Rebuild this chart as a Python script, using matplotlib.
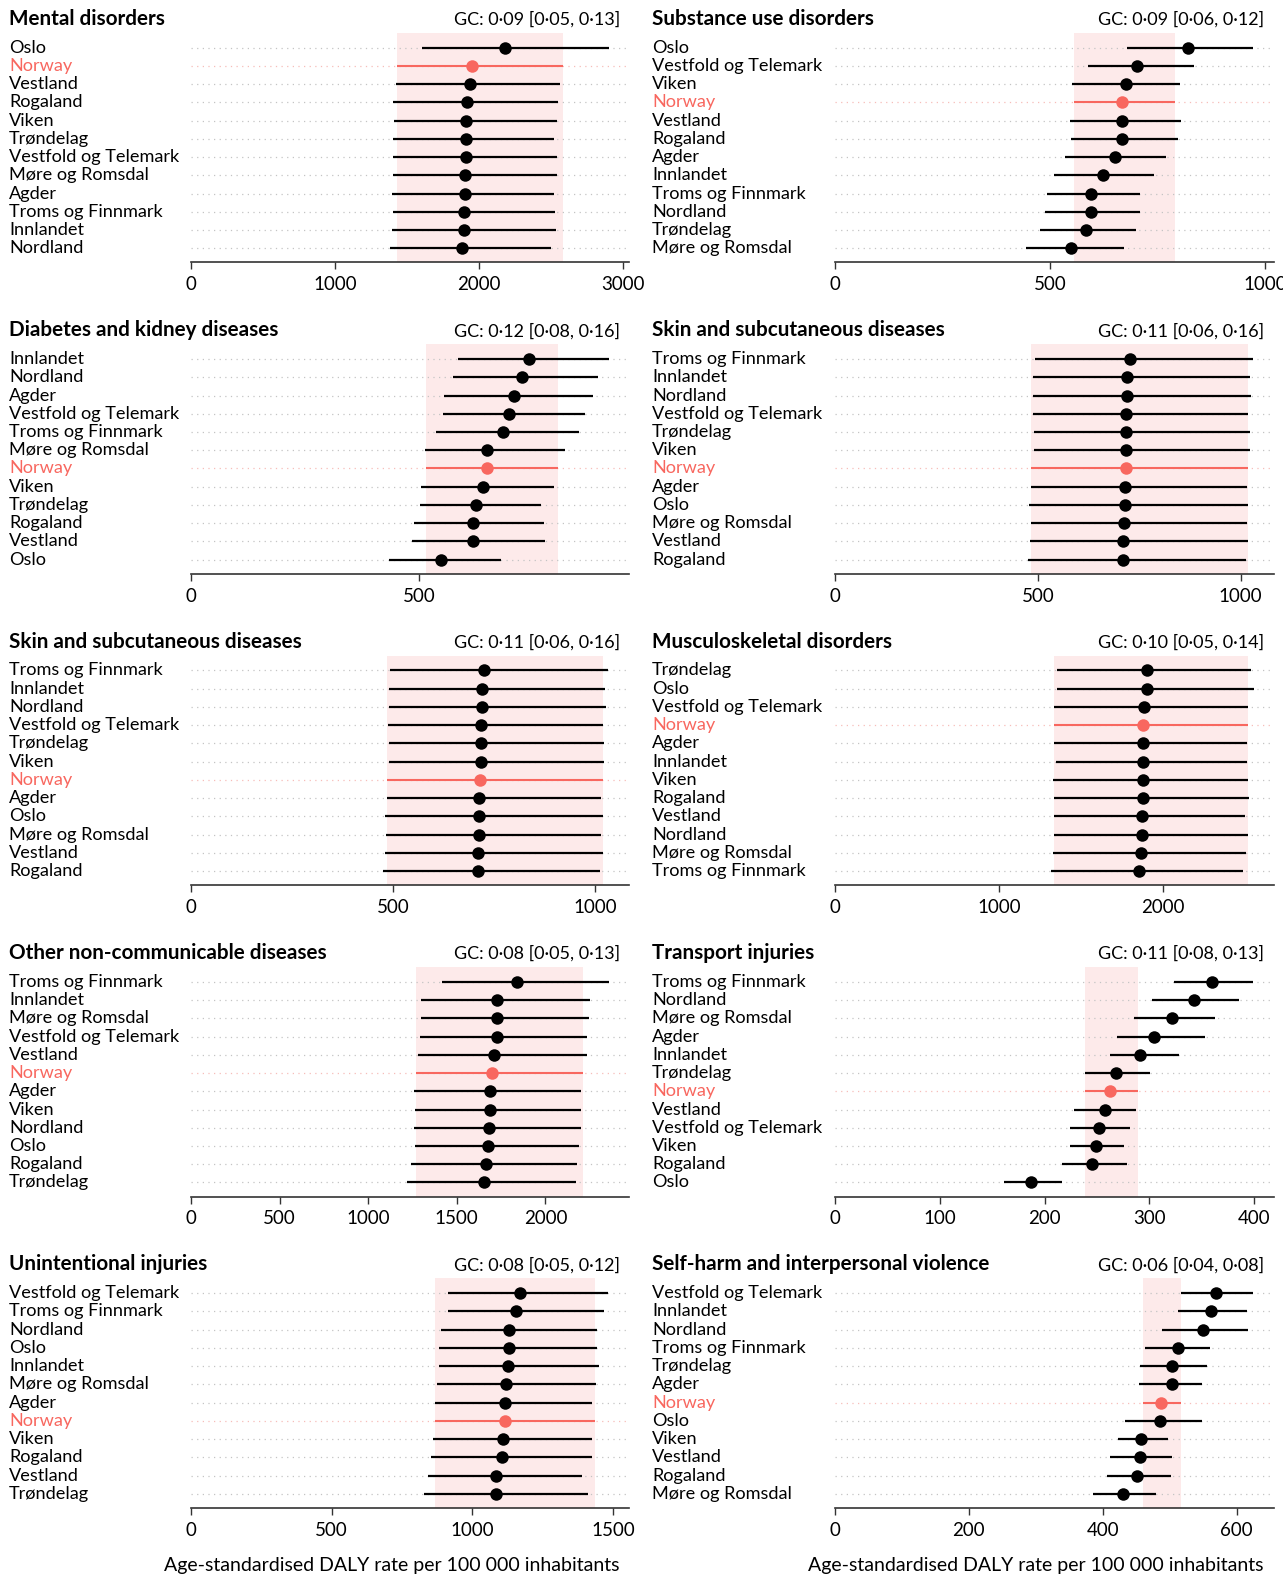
import matplotlib.pyplot as plt
from matplotlib import transforms

plt.rcParams["font.family"] = ["Lato", "DejaVu Sans"]

# ---- data: regions listed top to bottom, DALY rate with lower/upper UI ----
mental_regions = ["Oslo", "Norway", "Vestland", "Rogaland", "Viken", "Trøndelag",
                  "Vestfold og Telemark", "Møre og Romsdal", "Agder",
                  "Troms og Finnmark", "Innlandet", "Nordland"]
mental_rate = [2182, 1949, 1937, 1915, 1912, 1909, 1909, 1906, 1903, 1900, 1900, 1883]
mental_lo = [1602, 1431, 1423, 1400, 1408, 1400, 1405, 1403, 1397, 1405, 1397, 1386]
mental_hi = [2902, 2583, 2563, 2549, 2543, 2524, 2543, 2541, 2524, 2532, 2535, 2504]

substance_regions = ["Oslo", "Vestfold og Telemark", "Viken", "Norway", "Vestland",
                     "Rogaland", "Agder", "Innlandet", "Troms og Finnmark",
                     "Nordland", "Trøndelag", "Møre og Romsdal"]
substance_rate = [820, 702, 676, 668, 668, 667, 651, 623, 595, 595, 583, 549]
substance_lo = [679, 588, 552, 557, 547, 550, 536, 509, 492, 488, 477, 445]
substance_hi = [973, 836, 803, 791, 805, 797, 769, 743, 710, 710, 701, 672]

diabetes_regions = ["Innlandet", "Nordland", "Agder", "Vestfold og Telemark",
                    "Troms og Finnmark", "Møre og Romsdal", "Norway", "Viken",
                    "Trøndelag", "Rogaland", "Vestland", "Oslo"]
diabetes_rate = [741, 725, 708, 698, 684, 649, 648, 640, 624, 619, 618, 549]
diabetes_lo = [585, 574, 555, 552, 538, 512, 514, 505, 503, 489, 484, 434]
diabetes_hi = [916, 891, 880, 863, 851, 819, 804, 795, 768, 773, 775, 680]

skin_regions = ["Troms og Finnmark", "Innlandet", "Nordland", "Vestfold og Telemark",
                "Trøndelag", "Viken", "Norway", "Agder", "Oslo", "Møre og Romsdal",
                "Vestland", "Rogaland"]
skin_rate = [726, 720, 720, 718, 718, 717, 716, 714, 714, 713, 711, 710]
skin_lo = [493, 489, 489, 487, 490, 490, 484, 484, 479, 482, 480, 475]
skin_hi = [1031, 1024, 1026, 1019, 1022, 1022, 1019, 1015, 1019, 1015, 1019, 1013]

musculo_regions = ["Trøndelag", "Oslo", "Vestfold og Telemark", "Norway", "Agder",
                   "Innlandet", "Viken", "Rogaland", "Vestland", "Nordland",
                   "Møre og Romsdal", "Troms og Finnmark"]
musculo_rate = [1905, 1905, 1887, 1882, 1882, 1879, 1879, 1877, 1874, 1872, 1867, 1857]
musculo_lo = [1356, 1354, 1338, 1338, 1338, 1346, 1333, 1338, 1338, 1336, 1333, 1321]
musculo_hi = [2541, 2554, 2521, 2521, 2513, 2513, 2521, 2524, 2503, 2521, 2508, 2488]

other_ncd_regions = ["Troms og Finnmark", "Innlandet", "Møre og Romsdal",
                     "Vestfold og Telemark", "Vestland", "Norway", "Agder", "Viken",
                     "Nordland", "Oslo", "Rogaland", "Trøndelag"]
other_ncd_rate = [1838, 1729, 1725, 1725, 1709, 1699, 1690, 1685, 1681, 1679, 1665, 1655]
other_ncd_lo = [1417, 1297, 1299, 1290, 1279, 1272, 1260, 1265, 1260, 1265, 1244, 1221]
other_ncd_hi = [2358, 2254, 2247, 2236, 2236, 2213, 2199, 2199, 2199, 2192, 2176, 2171]

transport_regions = ["Troms og Finnmark", "Nordland", "Møre og Romsdal", "Agder",
                     "Innlandet", "Trøndelag", "Norway", "Vestland",
                     "Vestfold og Telemark", "Viken", "Rogaland", "Oslo"]
transport_rate = [360, 343, 322, 304, 291, 268, 262, 258, 252, 249, 245, 187]
transport_lo = [324, 303, 285, 269, 262, 239, 239, 228, 224, 224, 217, 161]
transport_hi = [399, 386, 363, 353, 328, 301, 289, 287, 282, 276, 279, 217]

unintent_regions = ["Vestfold og Telemark", "Troms og Finnmark", "Nordland", "Oslo",
                    "Innlandet", "Møre og Romsdal", "Agder", "Norway", "Viken",
                    "Rogaland", "Vestland", "Trøndelag"]
unintent_rate = [1169, 1154, 1132, 1131, 1128, 1119, 1116, 1115, 1109, 1105, 1084, 1083]
unintent_lo = [913, 913, 888, 882, 882, 874, 869, 869, 860, 852, 842, 830]
unintent_hi = [1483, 1468, 1443, 1442, 1451, 1438, 1427, 1435, 1424, 1427, 1390, 1410]

selfharm_regions = ["Vestfold og Telemark", "Innlandet", "Nordland",
                    "Troms og Finnmark", "Trøndelag", "Agder", "Norway", "Oslo",
                    "Viken", "Vestland", "Rogaland", "Møre og Romsdal"]
selfharm_rate = [569, 562, 550, 512, 504, 503, 487, 485, 458, 456, 452, 431]
selfharm_lo = [517, 513, 489, 463, 456, 455, 460, 433, 423, 411, 407, 385]
selfharm_hi = [625, 615, 617, 561, 556, 549, 517, 548, 497, 503, 502, 480]

panels = [
    dict(title="Mental disorders", gc="GC: 0·09 [0·05, 0·13]",
         regions=mental_regions, rate=mental_rate, lo=mental_lo, hi=mental_hi,
         xmax=3043, ticks=[0, 1000, 2000, 3000]),
    dict(title="Substance use disorders", gc="GC: 0·09 [0·06, 0·12]",
         regions=substance_regions, rate=substance_rate, lo=substance_lo,
         hi=substance_hi, xmax=1021, ticks=[0, 500, 1000]),
    dict(title="Diabetes and kidney diseases", gc="GC: 0·12 [0·08, 0·16]",
         regions=diabetes_regions, rate=diabetes_rate, lo=diabetes_lo,
         hi=diabetes_hi, xmax=960, ticks=[0, 500]),
    dict(title="Skin and subcutaneous diseases", gc="GC: 0·11 [0·06, 0·16]",
         regions=skin_regions, rate=skin_rate, lo=skin_lo, hi=skin_hi,
         xmax=1082, ticks=[0, 500, 1000]),
    dict(title="Skin and subcutaneous diseases", gc="GC: 0·11 [0·06, 0·16]",
         regions=skin_regions, rate=skin_rate, lo=skin_lo, hi=skin_hi,
         xmax=1084, ticks=[0, 500, 1000]),
    dict(title="Musculoskeletal disorders", gc="GC: 0·10 [0·05, 0·14]",
         regions=musculo_regions, rate=musculo_rate, lo=musculo_lo,
         hi=musculo_hi, xmax=2679, ticks=[0, 1000, 2000]),
    dict(title="Other non-communicable diseases", gc="GC: 0·08 [0·05, 0·13]",
         regions=other_ncd_regions, rate=other_ncd_rate, lo=other_ncd_lo,
         hi=other_ncd_hi, xmax=2472, ticks=[0, 500, 1000, 1500, 2000]),
    dict(title="Transport injuries", gc="GC: 0·11 [0·08, 0·13]",
         regions=transport_regions, rate=transport_rate, lo=transport_lo,
         hi=transport_hi, xmax=419, ticks=[0, 100, 200, 300, 400]),
    dict(title="Unintentional injuries", gc="GC: 0·08 [0·05, 0·12]",
         regions=unintent_regions, rate=unintent_rate, lo=unintent_lo,
         hi=unintent_hi, xmax=1557, ticks=[0, 500, 1000, 1500]),
    dict(title="Self-harm and interpersonal violence", gc="GC: 0·06 [0·04, 0·08]",
         regions=selfharm_regions, rate=selfharm_rate, lo=selfharm_lo,
         hi=selfharm_hi, xmax=656, ticks=[0, 200, 400, 600]),
]

XLABEL = "Age-standardised DALY rate per 100 000 inhabitants"

# colours
BLACK = "#000000"
NORWAY = "#F8675F"
SPAN = "#FDEAEA"
DOTS = "#C4C4C4"
DOTS_NOR = "#F7BDB9"

# layout in pixels of the 1283x1578 canvas
W, H = 1283, 1578
COL_X = [(191, 629), (835, 1274)]
LABEL_X = [9, 652]
GC_X = [620, 1264]
TOP0, BOT0, ROW_STEP = 32.7, 262.3, 311.4


def fx(px):
    return px / W


def fy(py):
    return 1 - py / H


fig = plt.figure(figsize=(W / 100, H / 100), dpi=100)

for i, p in enumerate(panels):
    row, col = divmod(i, 2)
    x0, x1 = COL_X[col]
    top = TOP0 + row * ROW_STEP
    bot = BOT0 + row * ROW_STEP
    ax = fig.add_axes([fx(x0), fy(bot), (x1 - x0) / W, (bot - top) / H])

    n = len(p["regions"])
    ax.set_xlim(0, p["xmax"])
    ax.set_ylim(n - 1 + 0.77, -0.82)

    k = p["regions"].index("Norway")
    ax.axvspan(p["lo"][k], p["hi"][k], color=SPAN, lw=0, zorder=0)

    label_tr = transforms.blended_transform_factory(fig.transFigure, ax.transData)
    for y, name in enumerate(p["regions"]):
        is_nor = name == "Norway"
        c = NORWAY if is_nor else BLACK
        ax.plot([0, p["xmax"]], [y, y], color=DOTS_NOR if is_nor else DOTS,
                lw=0.9, linestyle=(0, (1, 3.5)), zorder=1)
        ax.plot([p["lo"][y], p["hi"][y]], [y, y], color=c,
                lw=1.5 if is_nor else 1.6, zorder=2, solid_capstyle="butt")
        ax.plot(p["rate"][y], y, "o", color=c, ms=9, mec="none", zorder=3)
        ax.text(fx(LABEL_X[col]), y, name, transform=label_tr, ha="left",
                va="center", fontsize=13.1, color=c)

    for s in ["top", "right", "left"]:
        ax.spines[s].set_visible(False)
    ax.spines["bottom"].set_color("#333333")
    ax.spines["bottom"].set_linewidth(1.2)
    ax.set_yticks([])
    ax.set_xticks(p["ticks"])
    ax.set_xticklabels([str(t) for t in p["ticks"]])
    ax.tick_params(axis="x", length=5, width=1, color="#333333", pad=5,
                   labelsize=13.5)
    ax.patch.set_alpha(0)

    fig.text(fx(LABEL_X[col]), fy(top - 14), p["title"], ha="left", va="center",
             fontsize=14.9, fontweight="bold")
    fig.text(fx(GC_X[col]), fy(top - 13), p["gc"], ha="right", va="center",
             fontsize=13)

    if row == 4:
        fig.text(fx(GC_X[col] - 1), fy(1566), XLABEL, ha="right", va="center",
                 fontsize=14)

fig.savefig("out.png", dpi=100)
